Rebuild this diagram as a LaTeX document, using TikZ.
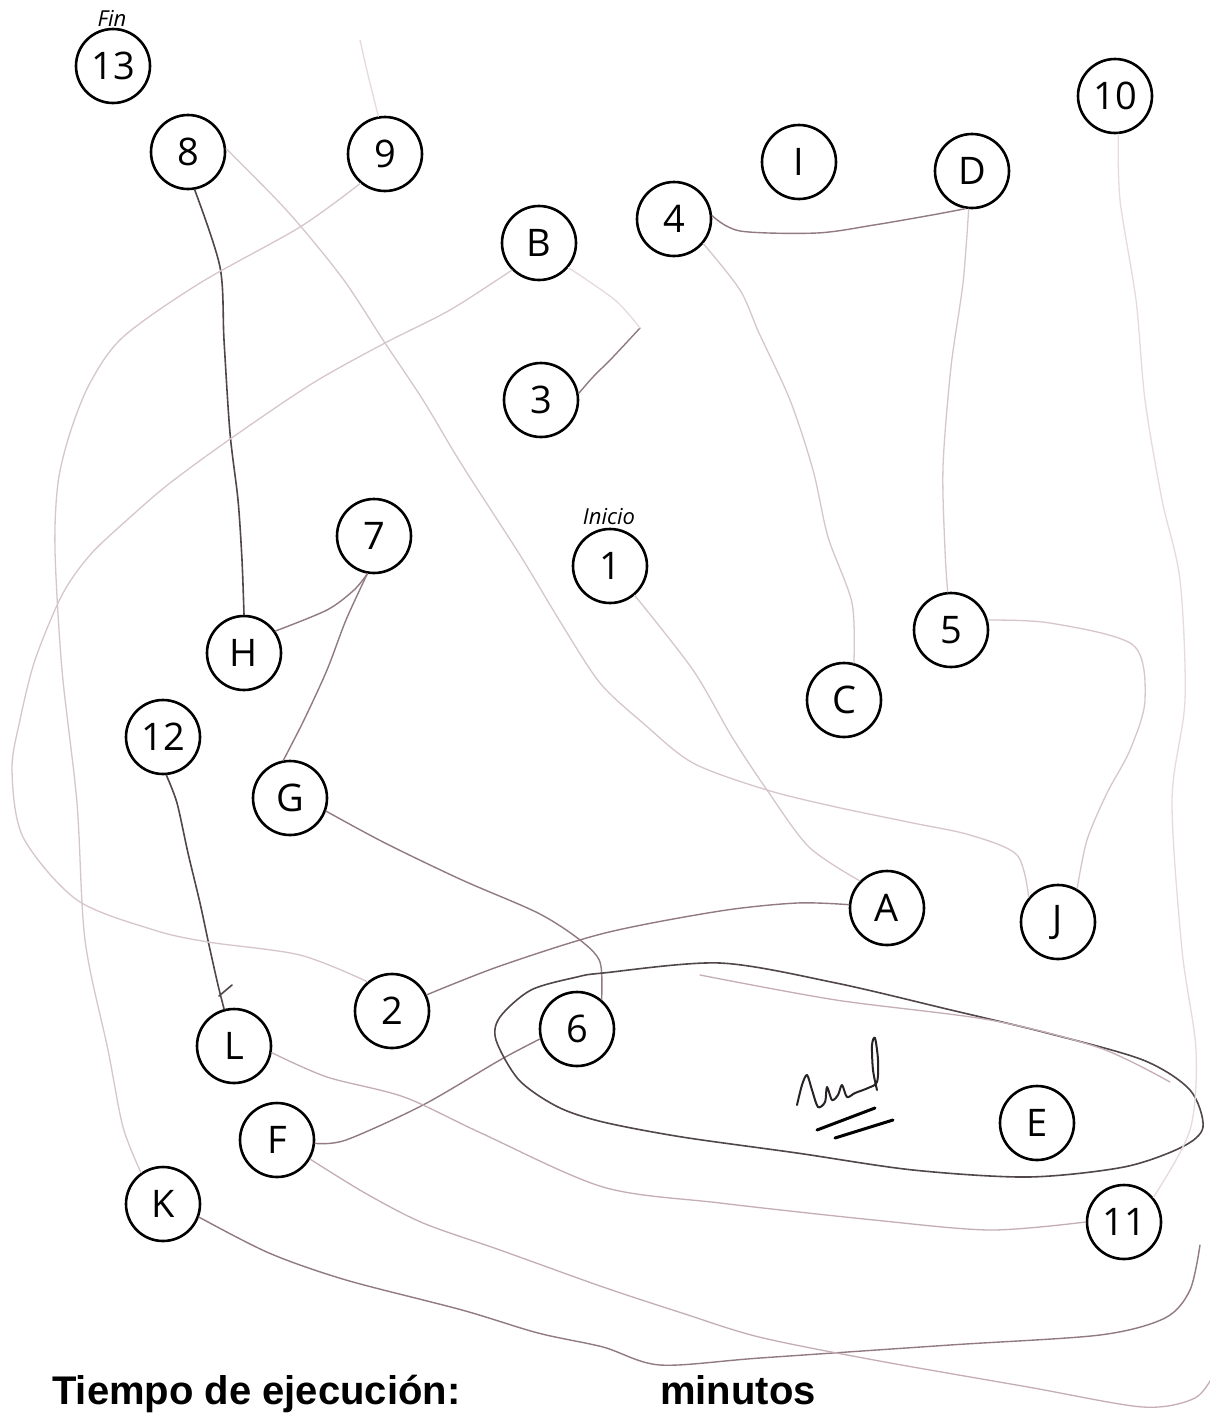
\documentclass[tikz,border=0pt]{standalone}
\usepackage{fontspec}
\setmainfont{Open Sans}
\newfontfamily\arialfont{Liberation Sans}
\begin{document}
\begin{tikzpicture}[x=1pt,y=-1pt,
  tm/.style={circle,draw=black,line width=2.6pt,minimum size=74pt,inner sep=0pt,
    font=\fontsize{38}{44}\selectfont},
  lbl/.style={font=\itshape\fontsize{22}{25}\selectfont},
  pen/.style={line width=1.3pt,line cap=round,line join=round},
  dk/.style={pen,draw={rgb,255:red,80;green,70;blue,75},line width=1.6pt},
  md/.style={pen,draw={rgb,255:red,145;green,122;blue,128},line width=1.4pt},
  lt/.style={pen,draw={rgb,255:red,196;green,174;blue,179}},
  vlt/.style={pen,draw={rgb,255:red,214;green,198;blue,202}},
  xlt/.style={pen,draw={rgb,255:red,230;green,218;blue,220}},
  bottomtext/.style={anchor=base west,inner sep=0pt,font=\arialfont\bfseries\fontsize{40}{48}\selectfont},
]
\useasboundingbox[fill=white] (0,0) rectangle (1210,1414);

\coordinate (kend) at (1200,1245);
\coordinate (fend) at (1215,1372);
\coordinate (top9) at (360,40);
\coordinate (bmark) at (640,328);

% circles
\node[tm] (n13) at (113,66) {13};
\node[tm] (n8) at (188,152) {8};
\node[tm] (n9) at (385,154) {9};
\node[tm] (nB) at (539,243) {B};
\node[tm] (n4) at (674,219) {4};
\node[tm] (nI) at (799,162) {I};
\node[tm] (nD) at (972,171) {D};
\node[tm] (n10) at (1115,96) {10};
\node[tm] (n3) at (541,400) {3};
\node[tm] (n7) at (374,536) {7};
\node[tm] (n1) at (610,566) {1};
\node[tm] (n5) at (951,630) {5};
\node[tm] (nH) at (244,653) {H};
\node[tm] (nC) at (844,700) {C};
\node[tm] (n12) at (163,737) {12};
\node[tm] (nG) at (290,798) {G};
\node[tm] (nA) at (887,908) {A};
\node[tm] (nJ) at (1058,922) {J};
\node[tm] (n2) at (392,1011) {2};
\node[tm] (n6) at (577,1029) {6};
\node[tm] (nL) at (234,1046) {L};
\node[tm] (nE) at (1037,1123) {E};
\node[tm] (nF) at (277,1140) {F};
\node[tm] (nK) at (163,1204) {K};
\node[tm] (n11) at (1124,1222) {11};

\node[lbl] (fin) at (112,18) {Fin};
\node[lbl] (ini) at (609,517) {Inicio};

% connectors
\draw[dk] plot[smooth] coordinates {(n8.-80) (220,267) (224,340) (230,433) (238,500) (242,560) (nH.north)};
\draw[md] plot[smooth] coordinates {(nH.35) (327,610) (354,590) (n7.-100)};
\draw[md] plot[smooth] coordinates {(n7.-100) (346,620) (327,670) (304,720) (nG.100)};
\draw[md] plot[smooth] coordinates {(nG.-20) (385,843) (462,880) (538,913) (580,940) (600,962) (n6.50)};
\draw[dk] plot[smooth] coordinates {(n12.-85) (177,803) (188,853) (200,903) (209,945) (218,985) (nL.105)};
\draw[dk] (219,996) -- (232,985);
\draw[md] plot[smooth] coordinates {(nF.-5) (346,1140) (423,1105) (500,1060) (n6.195)};
\draw[vlt] plot[smooth] coordinates {(n1.-50) (693,670) (732,737) (767,790) (809,847) (nA.135)};
\draw[md] plot[smooth] coordinates {(nA.175) (797,903) (720,911) (605,933) (500,966) (n2.25)};
\draw[md] plot[smooth] coordinates {(n4.5) (740,231) (817,233) (874,225) (932,215) (nD.-100)};
\draw[vlt] plot[smooth] coordinates {(n4.-40) (740,290) (759,333) (790,400) (813,470) (828,537) (852,603) (nC.75)};
\draw[vlt] plot[smooth] coordinates {(nD.-95) (963,283) (951,367) (943,467) (945,550) (n5.95)};
\draw[vlt] plot[smooth] coordinates {(n5.15) (1050,623) (1133,645) (1145,700) (1130,750) (1107,793) (1087,840) (nJ.60)};
\draw[md] plot[smooth] coordinates {(n3.10) (593,377) (613,357) (bmark)};
\draw[xlt] plot[smooth] coordinates {(nB.-40) (615,300) (bmark)};
\draw[vlt] plot[smooth] coordinates {(n8.5) (277,200) (308,235) (346,283) (385,343) (423,400) (462,465) (520,555) (561,623) (600,683) (643,723) (693,763) (767,790) (836,807) (913,823) (970,835) (1017,855) (nJ.140)};
\draw[vlt] plot[smooth] coordinates {(n9.-130) (300,227) (200,283) (123,337) (90,383) (70,433) (58,483) (55,550) (62,670) (77,803) (85,940) (108,1050) (123,1127) (nK.125)};
\draw[vlt] plot[smooth] coordinates {(nB.-135) (450,310) (385,343) (313,383) (233,437) (170,483) (127,520) (90,555) (62,595) (35,660) (20,720) (12,770) (23,837) (77,900) (154,930) (208,942) (300,955) (n2.130)};
\draw[xlt] plot[smooth] coordinates {(n9.100) (368,75) (top9)};
\draw[dk] plot[smooth cycle] coordinates {(603,973) (720,963) (836,983) (951,1010) (1047,1033) (1143,1060) (1190,1090) (1203,1127) (1182,1147) (1124,1167) (1028,1177) (913,1170) (797,1153) (682,1137) (603,1122) (558,1107) (519,1080) (496,1040) (500,1017) (531,990) (577,977)};
\draw[lt] plot[smooth] coordinates {(700,975) (836,1000) (990,1020) (1100,1048) (1170,1082)};
\draw[lt] plot[smooth] coordinates {(nL.-10) (327,1077) (404,1097) (481,1133) (603,1187) (720,1203) (874,1220) (990,1230) (n11.180)};
\draw[md] plot[smooth] coordinates {(nK.-20) (269,1253) (346,1280) (462,1310) (538,1333) (603,1347) (660,1365) (760,1358) (950,1345) (1100,1335) (1165,1318) (1190,1290) (kend)};
\draw[lt] plot[smooth] coordinates {(nF.-30) (365,1193) (423,1223) (500,1250) (603,1287) (682,1313) (759,1337) (874,1360) (1028,1387) (1143,1407) (1195,1398) (fend)};
\draw[xlt] plot[smooth] coordinates {(n10.-85) (1120,200) (1136,300) (1145,400) (1162,500) (1180,580) (1185,700) (1172,800) (1182,950) (1196,1050) (1190,1130) (n11.40)};

% signature
\draw[line width=2pt,draw={rgb,255:red,40;green,35;blue,35},line cap=round,line join=round]
  plot[smooth] coordinates {(797,1105) (802,1085) (807,1075) (812,1090) (818,1107) (825,1102) (827,1087) (832,1100) (838,1095) (842,1085) (847,1097) (855,1093) (868,1088) (877,1082) (878,1060) (875,1038) (872,1045) (873,1070) (877,1090)};
\draw[line width=3pt,line cap=round] (817,1130) -- (875,1108);
\draw[line width=3pt,line cap=round] (835,1138) -- (893,1120);

% bottom text
\node[bottomtext] (tiempo) at (52,1404) {Tiempo de ejecución:};
\node[bottomtext] (minutos) at (660,1404) {minutos};
\end{tikzpicture}
\end{document}
